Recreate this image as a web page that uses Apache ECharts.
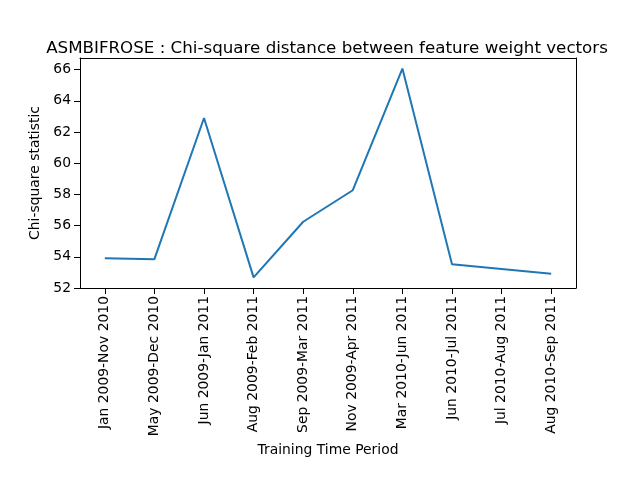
<!DOCTYPE html>
<html>
<head>
<meta charset="utf-8">
<script src="https://cdn.jsdelivr.net/npm/echarts@6/dist/echarts.min.js"></script>
<style>
  html, body { margin: 0; padding: 0; background: #fff; }
  #chart { width: 640px; height: 480px; }
</style>
</head>
<body>
<div id="chart"></div>
<script>
// training windows on the x axis
var periods = [
    'Jan 2009-Nov 2010', 'May 2009-Dec 2010', 'Jun 2009-Jan 2011', 'Aug 2009-Feb 2011',
    'Sep 2009-Mar 2011', 'Nov 2009-Apr 2011', 'Mar 2010-Jun 2011', 'Jun 2010-Jul 2011',
    'Jul 2010-Aug 2011', 'Aug 2010-Sep 2011'
];
var chiSquare = [53.9, 53.85, 62.9, 52.68, 56.25, 58.27, 66.07, 53.52, 53.22, 52.92];

var font = 'DejaVu Sans';
var chart = echarts.init(document.getElementById('chart'), null, { renderer: 'canvas' });

var spine = { show: true, onZero: false, lineStyle: { color: '#000', width: 1 } };

chart.setOption({
    animation: false,
    title: {
        text: 'ASMBIFROSE : Chi-square distance between feature weight vectors',
        left: 322,
        top: 35,
        textAlign: 'center',
        textStyle: { fontFamily: font, fontSize: 16.7, fontWeight: 'normal', color: '#000' }
    },
    grid: {
        left: 80,
        right: 64,
        top: 58,
        bottom: 192,
        show: false
    },
    xAxis: [{
        type: 'category',
        data: periods,
        boundaryGap: true,
        name: 'Training Time Period',
        nameLocation: 'middle',
        nameGap: 155,
        nameTextStyle: { fontFamily: font, fontSize: 13.9, color: '#000' },
        splitLine: { show: false },
        axisLine: spine,
        axisTick: { show: true, alignWithLabel: true, interval: 0, length: 6, lineStyle: { color: '#000', width: 1 } },
        axisLabel: {
            interval: 0,
            rotate: 90,
            margin: 8,
            fontFamily: font,
            fontSize: 13.9,
            color: '#000'
        }
    }, {
        // top spine
        type: 'category',
        data: periods,
        position: 'top',
        splitLine: { show: false },
        axisLine: spine,
        axisTick: { show: false },
        axisLabel: { show: false }
    }],
    yAxis: [{
        type: 'value',
        min: 52,
        max: 66.75,
        interval: 2,
        name: 'Chi-square statistic',
        nameLocation: 'middle',
        nameGap: 32,
        nameTextStyle: { fontFamily: font, fontSize: 13.9, color: '#000' },
        splitLine: { show: false },
        axisLine: spine,
        axisTick: { show: true, length: 6, lineStyle: { color: '#000', width: 1 } },
        axisLabel: {
            showMaxLabel: false,
            margin: 9,
            fontFamily: font,
            fontSize: 13.9,
            color: '#000'
        }
    }, {
        // right spine
        type: 'value',
        position: 'right',
        min: 52,
        max: 66.75,
        splitLine: { show: false },
        axisLine: spine,
        axisTick: { show: false },
        axisLabel: { show: false }
    }],
    series: [{
        type: 'line',
        data: chiSquare,
        symbol: 'none',
        lineStyle: { color: '#1f77b4', width: 2 },
        itemStyle: { color: '#1f77b4' }
    }]
});
</script>
</body>
</html>
